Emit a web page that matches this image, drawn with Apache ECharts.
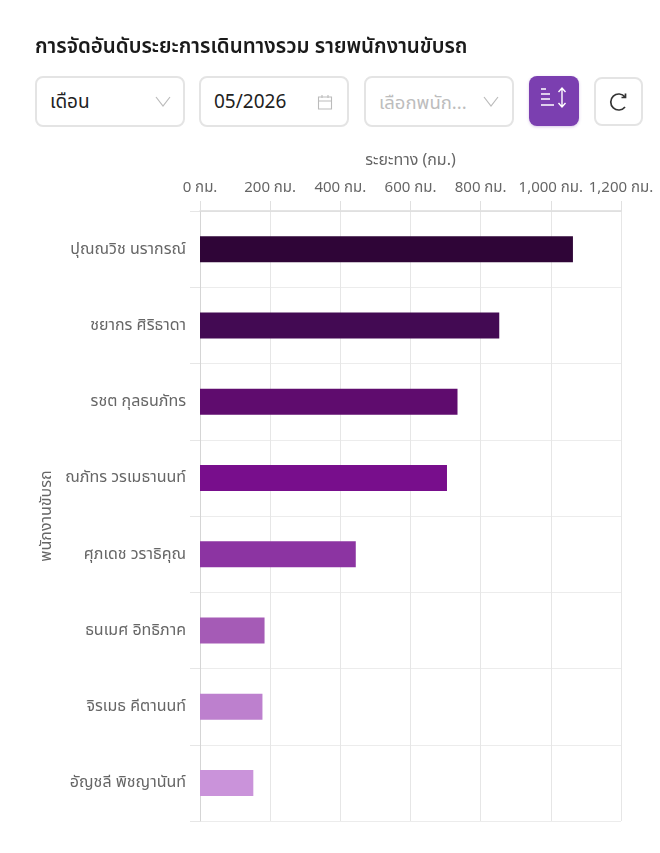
<!DOCTYPE html>
<html><head><meta charset="utf-8">
<script src="https://cdn.jsdelivr.net/npm/echarts@6/dist/echarts.min.js"></script>
<style>
html,body{margin:0;padding:0;background:#fff;width:660px;height:853px;overflow:hidden;font-family:"Noto Sans","Noto Sans Thai",Lato,sans-serif}
#chart{position:absolute;left:0;top:0;width:660px;height:853px}
.t{position:absolute;left:35px;top:31px;font-size:20.500px;font-weight:600;color:#1a1a1a;line-height:28px;white-space:nowrap}
.b{position:absolute;top:76px;height:51px;box-sizing:border-box;border:2px solid #e4e4e4;border-radius:8px;background:#fff;font-size:19px;line-height:47px;color:#222;padding-left:13px;white-space:nowrap}
.b svg{position:absolute}
</style></head><body>
<div id="chart"></div>
<div class="t">การจัดอันดับระยะการเดินทางรวม รายพนักงานขับรถ</div>
<div class="b" style="left:35px;width:150px">เดือน<svg style="left:118px;top:18px" width="16" height="12"><path d="M1 1L8 10L15 1" fill="none" stroke="#bbb" stroke-width="1.2"/></svg></div>
<div class="b" style="left:199px;width:150px">05/2026<svg style="left:116px;top:16px" width="16" height="16"><path d="M1.500 3H14.500V15H1.500ZM1.500 7H14.500M5 1V4M11 1V4" fill="none" stroke="#bbb" stroke-width="1.1"/></svg></div>
<div class="b" style="left:364px;width:150px;color:#bdbdbd;font-size:18.500px">เลือกพนัก...<svg style="left:117px;top:18px" width="16" height="12"><path d="M1 1L8 10L15 1" fill="none" stroke="#bbb" stroke-width="1.2"/></svg></div>
<div class="b" style="left:529px;top:76px;width:50px;height:50px;background:#7b3fb0;border:none;box-shadow:0 1px 3px rgba(123,63,176,.3)"><svg style="left:10px;top:10px" width="30" height="26"><path d="M2 3H7M2 8H11M2 13H11M2 19H15M23 2V21M19.500 6L23 2L26.500 6M19.500 17L23 21L26.500 17" fill="none" stroke="#fff" stroke-width="1.4"/></svg></div>
<div class="b" style="left:594px;top:77px;width:49px;height:49px"><svg style="left:13px;top:13px" width="20" height="20"><path d="M16 5A8 8 0 1 0 16 15M16.500 1.500V5.500H12.500" fill="none" stroke="#333" stroke-width="1.7"/></svg></div>
<script>
const categories=["ปุณณวิช นรากรณ์","ชยากร ศิริธาดา","รชต กุลธนภัทร","ณภัทร วรเมธานนท์","ศุภเดช วราธิคุณ","ธนเมศ อิทธิภาค","จิรเมธ คีตานนท์","อัญชลี พิชญานันท์"];
const distances=[1063,853,734,704,444,184,178,152];
const barColors=["#2f0537","#430a53","#5f0c6e","#780e8c","#8c34a2","#a55bb6","#bd80ce","#ca93da"];
const chart=echarts.init(document.getElementById('chart'));
const fam='"Noto Sans","Noto Sans Thai",Lato,sans-serif';
chart.setOption({
 animation:false,
 grid:{left:200,right:39,top:211,bottom:32},
 xAxis:{type:'value',position:'top',min:0,max:1200,interval:200,
  name:'ระยะทาง (กม.)',nameLocation:'middle',nameGap:43,nameTextStyle:{color:'#666',fontSize:16,fontFamily:fam},
  axisLine:{show:true,lineStyle:{color:'#dcdcdc',width:1.5}},
  axisTick:{show:true,length:10,lineStyle:{color:'#e0e0e0'}},
  axisLabel:{color:'#666',fontSize:15,margin:16,fontFamily:fam,formatter:v=>v.toLocaleString('en-US')+' กม.'},
  splitLine:{show:true,lineStyle:{color:'#e6e6e6'}}},
 yAxis:{type:'category',inverse:true,data:categories,
  name:'พนักงานขับรถ',nameLocation:'middle',nameGap:144,nameRotate:90,nameTextStyle:{color:'#666',fontSize:16,fontFamily:fam},
  axisLine:{show:true,lineStyle:{color:'#d5d5d5',width:1}},
  axisTick:{show:true,length:10,lineStyle:{color:'#e6e6e6'}},
  axisLabel:{color:'#666',fontSize:16,margin:14,fontFamily:fam},
  splitLine:{show:true,lineStyle:{color:'#ececec'}}},
 series:[{type:'bar',barWidth:26,data:distances.map((v,i)=>({value:v,itemStyle:{color:barColors[i]}}))}]
});
</script></body></html>
